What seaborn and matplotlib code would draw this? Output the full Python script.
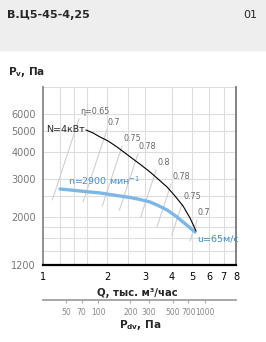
import numpy as np
import pandas as pd
import matplotlib
matplotlib.use("Agg")
import matplotlib.pyplot as plt
import matplotlib.ticker as mticker
from matplotlib.patches import Rectangle
import seaborn as sns

# ---- data ----
title = "В.Ц5-45-4,25"
code = "01"
q_fan = [1.201, 1.338, 1.490, 1.659, 1.848, 2.059, 2.293, 2.554, 2.844, 3.168,
         3.453, 3.805, 4.147, 4.521, 4.823, 5.145]
p_fan = [2698, 2670, 2641, 2613, 2586, 2544, 2504, 2464, 2412, 2349,
         2263, 2157, 2034, 1898, 1800, 1706]
q_pow = [1.589, 1.714, 1.848, 2.015, 2.220, 2.420, 2.637, 2.875, 3.168, 3.453,
         3.805, 4.147, 4.521, 4.875, 5.200]
p_pow = [5061, 4902, 4697, 4501, 4222, 3960, 3715, 3485, 3234, 3002,
         2756, 2504, 2251, 1981, 1724]
eta_labels = ["η=0.65", "0.7", "0.75", "0.78", "0.8", "0.78", "0.75", "0.7"]
eta_q = [1.49, 2.01, 2.37, 2.81, 3.42, 4.02, 4.52, 5.31]
eta_p = [5880, 5225, 4405, 4046, 3410, 2940, 2373, 2003]
eta_p_end = [2400, 2350, 2250, 2150, 2000, 1800, 1650, 1550]
x_ticks = [1, 2, 3, 4, 5, 6, 7, 8]
x_grid = [1.2, 1.4, 1.6, 2.5]
y_ticks = [1200, 2000, 3000, 4000, 5000, 6000]
y_grid = [1400, 1600, 1800, 2500, 8000]
pdv_ticks = [50, 70, 100, 200, 300, 500, 700, 1000]
pdv_coef = 30.5

sns.set_style("white")
plt.rcParams["font.family"] = ["DejaVu Sans"]

W, H = 266, 342
fig = plt.figure(figsize=(W / 100, H / 100), dpi=100)
fig.patches.append(Rectangle((0, 1 - 50 / H), 1, 50 / H, transform=fig.transFigure,
                             color="#eeeeee", zorder=0))
fig.text(7 / W, 1 - 15 / H, title, fontsize=8, fontweight="bold", va="center", ha="left")
fig.text(257 / W, 1 - 15 / H, code, fontsize=8, va="center", ha="right")
fig.text(8 / W, 1 - 72 / H, r"$\mathbf{P_{v}}$, Па", fontsize=7.5, fontweight="bold",
         va="center", ha="left")

L, R, T, B = 43, 236, 87, 265
ax = fig.add_axes([L / W, 1 - B / H, (R - L) / W, (B - T) / H])
ax.set_xscale("log")
ax.set_yscale("log")
ax.set_xlim(1, 8)
ax.set_ylim(1200, 8000)

grid_c = "#dddddd"
for v in x_ticks[1:-1] + x_grid:
    ax.axvline(v, color=grid_c, lw=0.8, zorder=0)
for v in y_ticks[1:] + y_grid:
    ax.axhline(v, color=grid_c, lw=0.8, zorder=0)

# efficiency lines
for lab, q0, p0, p1 in zip(eta_labels, eta_q, eta_p, eta_p_end):
    pp = np.geomspace(p0 * 0.97, p1, 20)
    qq = q0 * (pp / p0) ** (1 / 3)
    ax.plot(qq, pp, color="#d0d0d0", lw=0.8, zorder=1)
    ax.text(q0, p0, lab, fontsize=5.8, color="#666666", ha="left", va="bottom", zorder=3)

df_fan = pd.DataFrame({"Q": q_fan, "P": p_fan})
df_pow = pd.DataFrame({"Q": q_pow, "P": p_pow})
sns.lineplot(data=df_fan, x="Q", y="P", ax=ax, color="#7db7e6", lw=2.4, zorder=4,
             estimator=None, sort=True)
sns.lineplot(data=df_pow, x="Q", y="P", ax=ax, color="black", lw=0.8, zorder=5,
             estimator=None, sort=True)

ax.text(q_pow[0] * 0.985, p_pow[0], "N=4кВт", fontsize=6.8, ha="right", va="center", zorder=6)
ax.text(1.31, 2940, "n=2900 мин$^{-1}$", fontsize=6.8, color="#3d8fd6", ha="left",
        va="center", zorder=6)
ax.text(5.26, 1583, "u=65м/с", fontsize=6.8, color="#3d8fd6", ha="left", va="center",
        zorder=6, clip_on=False)

ax.xaxis.set_major_locator(mticker.FixedLocator(x_ticks))
ax.xaxis.set_major_formatter(mticker.FixedFormatter([str(v) for v in x_ticks]))
ax.xaxis.set_minor_locator(mticker.NullLocator())
ax.yaxis.set_major_locator(mticker.FixedLocator(y_ticks))
ax.yaxis.set_major_formatter(mticker.FixedFormatter([str(v) for v in y_ticks]))
ax.yaxis.set_minor_locator(mticker.NullLocator())
ax.tick_params(axis="x", length=3, width=1, direction="out", labelsize=7, pad=2,
               colors="black")
ax.tick_params(axis="y", length=3, width=1, direction="out", labelsize=7, pad=2,
               colors="#888888", labelcolor="#777777")
ax.set_xlabel("")
ax.set_ylabel("")

ax.spines["top"].set_visible(False)
ax.spines["left"].set_color("#888888")
ax.spines["left"].set_linewidth(1.3)
ax.spines["right"].set_color("#777777")
ax.spines["right"].set_linewidth(1.3)
ax.spines["bottom"].set_color("black")
ax.spines["bottom"].set_linewidth(1.6)

fig.text(137 / W, 1 - 293 / H, "Q, тыс. м³/час", fontsize=7.3, fontweight="bold",
         ha="center", va="center")

sec = ax.secondary_xaxis(-35 / (B - T),
                         functions=(lambda q: pdv_coef * np.abs(q) ** 2,
                                    lambda p: np.sqrt(np.abs(p) / pdv_coef)))
sec.xaxis.set_major_locator(mticker.FixedLocator(pdv_ticks))
sec.xaxis.set_major_formatter(mticker.FixedFormatter([str(v) for v in pdv_ticks]))
sec.xaxis.set_minor_locator(mticker.NullLocator())
sec.tick_params(axis="x", length=2, width=0.8, colors="#aaaaaa", labelcolor="#888888",
                labelsize=5.5, pad=4, direction="out")
sec.spines["bottom"].set_color("#999999")
sec.spines["bottom"].set_linewidth(1.2)

fig.text(140 / W, 1 - 325 / H, r"$\mathbf{P_{dv}}$, Па", fontsize=7.5, fontweight="bold",
         ha="center", va="center")

fig.savefig("out.png", dpi=100)
